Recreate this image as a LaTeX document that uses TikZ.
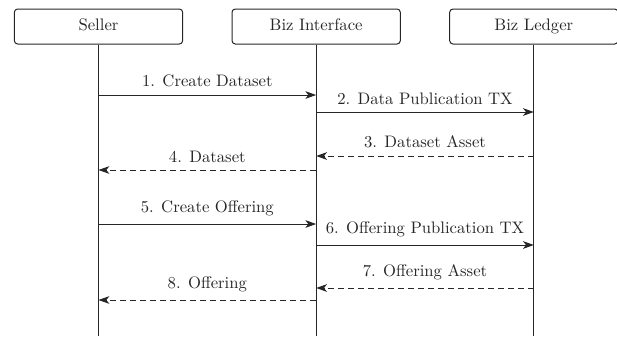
\documentclass[tikz,border=0pt]{standalone}
\usetikzlibrary{positioning,arrows.meta}

\begin{document}
\begin{tikzpicture}[x=0.6pt,y=-0.6pt,node distance=29pt,color=black!85,
    line width=0.6pt,
    actor/.style={draw,rounded corners=2pt,minimum width=101pt,
      minimum height=21pt,inner sep=0pt,text height=1.6ex,text depth=0.4ex},
    call/.style={-{Stealth[length=6.5pt,width=4.6pt,inset=1.8pt]}},
    reply/.style={call,dash pattern=on 3.6pt off 2.4pt}]
  \useasboundingbox (0,0) rectangle (617,336);
  % actors
  \node[actor] (seller) at (98.5,26.5) {Seller};
  \node[actor] (iface) [right=of seller] {Biz Interface};
  \node[actor] (ledger) [right=of iface] {Biz Ledger};
  \coordinate (bottom) at (0,336);
  % lifelines
  \draw (seller.south) -- (seller.south |- bottom);
  \draw (iface.south) -- (iface.south |- bottom);
  \draw (ledger.south) -- (ledger.south |- bottom);
  % messages
  \draw[call] (seller |- 0,95) -- node[above=1pt] {1. Create Dataset} (iface |- 0,95);
  \draw[call] (iface |- 0,112) -- node[above=1pt] {2. Data Publication TX} (ledger |- 0,112);
  \draw[reply] (ledger |- 0,156) -- node[above=1pt] {3. Dataset Asset} (iface |- 0,156);
  \draw[reply] (iface |- 0,170) -- node[above=1pt] {4. Dataset} (seller |- 0,170);
  \draw[call] (seller |- 0,224) -- node[above=1pt] {5. Create Offering} (iface |- 0,224);
  \draw[call] (iface |- 0,245) -- node[above=1pt] {6. Offering Publication TX} (ledger |- 0,245);
  \draw[reply] (ledger |- 0,288) -- node[above=1pt] {7. Offering Asset} (iface |- 0,288);
  \draw[reply] (iface |- 0,300) -- node[above=1pt] {8. Offering} (seller |- 0,300);
\end{tikzpicture}
\end{document}
